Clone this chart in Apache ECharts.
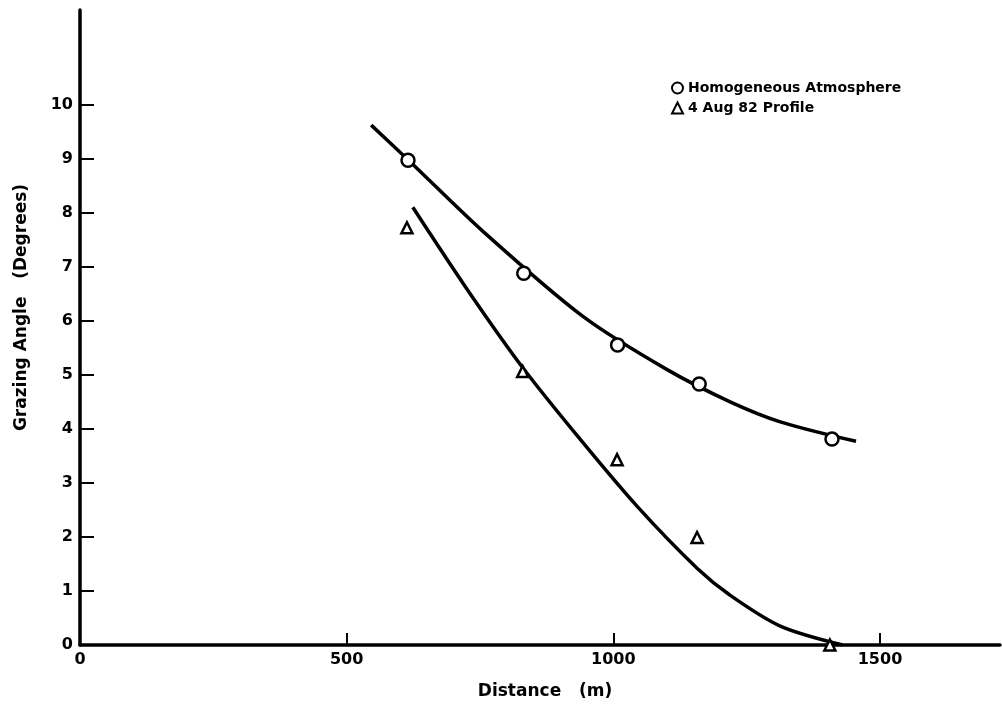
<!DOCTYPE html>
<html><head><meta charset="utf-8">
<script src="https://cdn.jsdelivr.net/npm/echarts@6/dist/echarts.min.js"></script>
<style>html,body{margin:0;padding:0;background:#fff}#c{width:1002px;height:720px}</style>
</head><body><div id="c"></div>
<script>
// Data
const homogeneousPoints = [[615, 8.97], [832, 6.88], [1008, 5.55], [1161, 4.83], [1410, 3.81]];
const profilePoints = [[613, 7.72], [830, 5.06], [1007, 3.43], [1157, 1.99], [1406, 0.0]];
const homogeneousCurve = [[546, 9.62], [615, 8.98], [756, 7.65], [943, 6.08], [1100, 5.1], [1219, 4.5], [1313, 4.13], [1455, 3.77]];
const profileCurve = [[624, 8.1], [726, 6.58], [831, 5.12], [940, 3.78], [1046, 2.55], [1157, 1.42], [1219, 0.92], [1313, 0.35], [1430, 0.0]];
const xTicks = [0, 500, 1000, 1500];
const yTicks = [0, 1, 2, 3, 4, 5, 6, 7, 8, 9, 10];
const legendNames = ['Homogeneous Atmosphere', '4 Aug 82 Profile'];

const font = 'DejaVu Sans';
const chart = echarts.init(document.getElementById('c'));
chart.setOption({
  animation: false,
  backgroundColor: '#fff',
  grid: { left: 80, right: 2, top: 10, bottom: 75 },
  legend: {
    data: legendNames, orient: 'vertical', left: 666, top: 76,
    itemWidth: 11, itemHeight: 11, itemGap: 6,
    textStyle: { fontFamily: font, fontWeight: 'bold', fontSize: 14, color: '#000' }
  },
  xAxis: {
    type: 'value', min: 0, max: 1725,
    name: 'Distance   (m)', nameLocation: 'middle', nameGap: 38,
    nameTextStyle: { fontFamily: font, fontWeight: 'bold', fontSize: 17, color: '#000', padding: [0, 0, 0, 10] },
    axisLine: { lineStyle: { color: '#000', width: 3.5 } },
    axisTick: { inside: true, length: 12, customValues: xTicks, lineStyle: { color: '#000', width: 2 } },
    axisLabel: { customValues: xTicks, margin: 7, formatter: v => String(v), fontFamily: font, fontWeight: 'bold', fontSize: 16, color: '#000' },
    splitLine: { show: false }
  },
  yAxis: {
    type: 'value', min: 0, max: 11.75,
    name: 'Grazing Angle   (Degrees)', nameLocation: 'middle', nameGap: 50, nameRotate: 90,
    nameTextStyle: { fontFamily: font, fontWeight: 'bold', fontSize: 17, color: '#000', padding: [0, 0, 0, 40] },
    axisLine: { lineStyle: { color: '#000', width: 3.5 } },
    axisTick: { inside: true, length: 14, customValues: yTicks, lineStyle: { color: '#000', width: 2 } },
    axisLabel: { customValues: yTicks, margin: 7, formatter: v => String(v), fontFamily: font, fontWeight: 'bold', fontSize: 16, color: '#000' },
    splitLine: { show: false }
  },
  series: [
    { type: 'line', data: homogeneousCurve, smooth: 0.3, showSymbol: false, silent: true,
      lineStyle: { color: '#000', width: 3.5 }, z: 2 },
    { type: 'line', data: profileCurve, smooth: 0.3, showSymbol: false, silent: true,
      lineStyle: { color: '#000', width: 3.5 }, z: 2 },
    { name: legendNames[0], type: 'scatter', data: homogeneousPoints, symbol: 'circle', symbolSize: 13,
      itemStyle: { color: '#fff', borderColor: '#000', borderWidth: 2.5, opacity: 1 }, z: 3 },
    { name: legendNames[1], type: 'scatter', data: profilePoints, symbol: 'triangle', symbolSize: 11,
      itemStyle: { color: '#fff', borderColor: '#000', borderWidth: 2.5, opacity: 1 }, z: 3 }
  ]
});
</script></body></html>
